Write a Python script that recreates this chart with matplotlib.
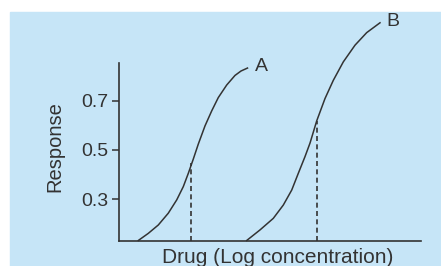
import matplotlib.pyplot as plt
from matplotlib.patches import Rectangle

# curve A (log concentration, response)
a_x = [0.639, 0.970, 1.301, 1.632, 1.911, 2.129, 2.295, 2.460, 2.626, 2.848,
       3.070, 3.288, 3.566, 3.841, 4.040, 4.255]
a_y = [0.132, 0.161, 0.195, 0.243, 0.297, 0.351, 0.405, 0.463, 0.524, 0.598,
       0.659, 0.713, 0.764, 0.803, 0.821, 0.833]
# curve B
b_x = [4.228, 4.669, 5.109, 5.440, 5.719, 5.937, 6.159, 6.325, 6.546, 6.821,
       7.096, 7.427, 7.815, 8.202, 8.642]
b_y = [0.132, 0.175, 0.222, 0.276, 0.337, 0.405, 0.473, 0.528, 0.618, 0.709,
       0.783, 0.858, 0.926, 0.977, 1.017]
# dashed drop lines (x, response)
drop_x = [2.384, 6.546]
drop_y = [0.447, 0.618]
yticks = [0.3, 0.5, 0.7]

plt.rcParams['font.family'] = ['Liberation Sans', 'DejaVu Sans']
ink = '#333333'
bg = '#c6e5f7'

fig = plt.figure(figsize=(4.41, 2.66), dpi=100)
fig.patch.set_facecolor('white')
fig.patches.append(Rectangle((10 / 441, 0), 1, (266 - 12) / 266,
                             transform=fig.transFigure, color=bg, zorder=-10))

ax = fig.add_axes([119 / 441, 25.5 / 266, 302 / 441, 0.8305])
ax.set_facecolor('none')
ax.set_xlim(0, 10)
ax.set_ylim(0.132, 1.03)

ax.plot(a_x, a_y, color=ink, lw=1.1, clip_on=False, solid_joinstyle='round')
ax.plot(b_x, b_y, color=ink, lw=1.1, clip_on=False, solid_joinstyle='round')
for x, y in zip(drop_x, drop_y):
    ax.plot([x, x], [0.132, y], color=ink, lw=1.2, ls=(0, (3, 2)))

ax.text(a_x[-1] + 0.25, a_y[-1] + 0.005, 'A', fontsize=14, color=ink, va='center')
ax.text(b_x[-1] + 0.2, b_y[-1] + 0.005, 'B', fontsize=14, color=ink, va='center')

for s in ['top', 'right']:
    ax.spines[s].set_visible(False)
for s in ['left', 'bottom']:
    ax.spines[s].set_color(ink)
    ax.spines[s].set_linewidth(1.2)
ax.spines['left'].set_bounds(0.132, 0.854)

ax.set_xticks([])
ax.set_yticks(yticks)
ax.set_yticklabels([f'{v:.1f}' for v in yticks])
ax.tick_params(axis='y', length=5, width=1.1, color=ink, labelcolor=ink,
               labelsize=14, pad=3)

ax.set_xlabel('Drug (Log concentration)', fontsize=15, color=ink, labelpad=5.5)
ax.xaxis.label.set_x(0.526)
fig.text(55 / 441, 1 - 147 / 266, 'Response', rotation=90, fontsize=14.5,
         color=ink, ha='center', va='center')

fig.savefig('out.png', dpi=100)
